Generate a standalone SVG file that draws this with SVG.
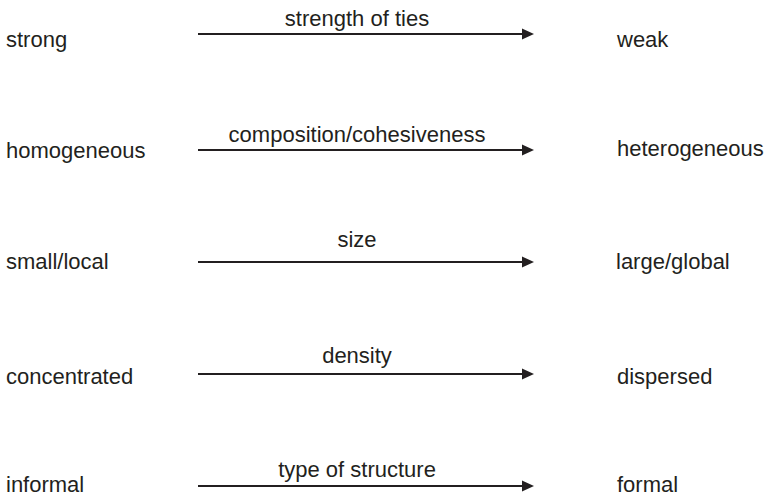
<svg xmlns="http://www.w3.org/2000/svg" width="764" height="496" viewBox="0 0 764 496">
<defs>
<style>
text{font-family:"Liberation Sans",Arial,Helvetica,sans-serif;font-size:22px;fill:#231f20}
.c{text-anchor:middle}
.ln{stroke:#231f20;stroke-width:2;fill:none}
.hd{fill:#231f20}
</style>
</defs>
<rect width="764" height="496" fill="#ffffff"/>
<g id="connectors">
<g id="arrow1"><line class="ln" x1="198" y1="34" x2="524" y2="34"/><polygon class="hd" points="522,28.5 534,34 522,39.5"/></g>
<g id="arrow2"><line class="ln" x1="198" y1="150" x2="524" y2="150"/><polygon class="hd" points="522,144.5 534,150 522,155.5"/></g>
<g id="arrow3"><line class="ln" x1="198" y1="262" x2="524" y2="262"/><polygon class="hd" points="522,256.5 534,262 522,267.5"/></g>
<g id="arrow4"><line class="ln" x1="198" y1="374" x2="524" y2="374"/><polygon class="hd" points="522,368.5 534,374 522,379.5"/></g>
<g id="arrow5"><line class="ln" x1="198" y1="486" x2="524" y2="486"/><polygon class="hd" points="522,480.5 534,486 522,491.5"/></g>
</g>
<g id="labels">
<text class="c" x="357" y="26">strength of ties</text>
<text class="c" x="357" y="142">composition/cohesiveness</text>
<text class="c" x="357" y="247">size</text>
<text class="c" x="357" y="363">density</text>
<text class="c" x="357" y="477">type of structure</text>
</g>
<g id="left">
<g id="n-strong"><text x="6" y="47">strong</text></g>
<g id="n-homogeneous"><text x="6" y="158">homogeneous</text></g>
<g id="n-small"><text x="6" y="269">small/local</text></g>
<g id="n-concentrated"><text x="6" y="384">concentrated</text></g>
<g id="n-informal"><text x="6" y="492">informal</text></g>
</g>
<g id="right">
<g id="n-weak"><text x="617" y="47">weak</text></g>
<g id="n-heterogeneous"><text x="617" y="156">heterogeneous</text></g>
<g id="n-large"><text x="616" y="269">large/global</text></g>
<g id="n-dispersed"><text x="617" y="384">dispersed</text></g>
<g id="n-formal"><text x="617" y="492">formal</text></g>
</g>
</svg>
